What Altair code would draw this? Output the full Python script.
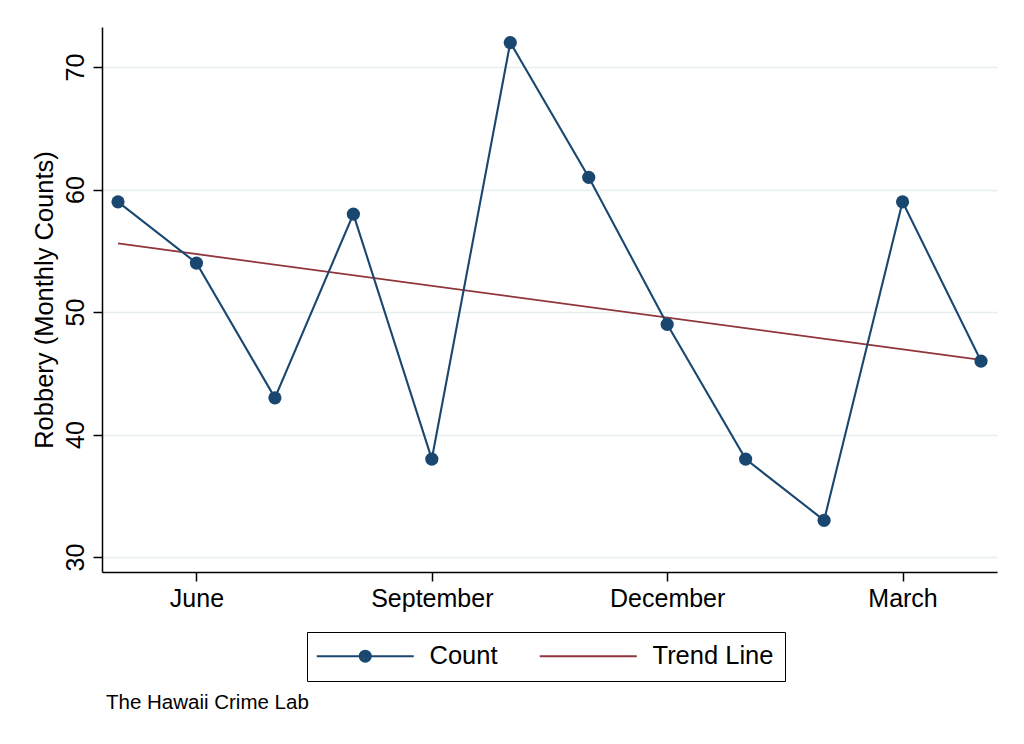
import altair as alt
import pandas as pd

# ---- data ----
months = ["May", "June", "July", "August", "September", "October",
          "November", "December", "January", "February", "March", "April"]
counts = [59, 54, 43, 58, 38, 72, 61, 49, 38, 33, 59, 46]
trend_months = ["May", "April"]
trend_values = [55.6, 46.1]
series_names = ["Count", "Trend Line"]
x_tick_labels = ["June", "September", "December", "March"]
y_ticks = [30, 40, 50, 60, 70]

NAVY = "#1a476f"
MAROON = "#90353b"
GRID = "#e6eef0"
FONT = "Liberation Sans"

# legend symbol paths (unit = sqrt(size)/2 px)
COUNT_PATH = ("M-1.4,0L8.3,0"
              "M2.9,0A0.55,0.55 0 1,0 4.0,0A0.55,0.55 0 1,0 2.9,0"
              "M3.1,0A0.35,0.35 0 1,0 3.8,0A0.35,0.35 0 1,0 3.1,0"
              "M3.3,0A0.15,0.15 0 1,0 3.6,0A0.15,0.15 0 1,0 3.3,0")
TREND_PATH = "M-1.4,0L8.3,0"

count_df = pd.DataFrame({"month": months, "value": counts})
trend_df = pd.DataFrame({"month": trend_months, "value": trend_values})
legend_df = pd.DataFrame({"series": series_names})

x_enc = alt.X(
    "month:O",
    sort=months,
    scale=alt.Scale(type="point", domain=months, padding=0.204),
    axis=alt.Axis(values=x_tick_labels, labelAngle=0, title=None, grid=False,
                  labelFontSize=25, labelPadding=5),
)
y_enc = alt.Y(
    "value:Q",
    scale=alt.Scale(domain=[28.78, 73.27], nice=False, zero=False),
    axis=alt.Axis(values=y_ticks, title="Robbery (Monthly Counts)",
                  labelAngle=270, labelAlign="center", labelBaseline="bottom",
                  labelFontSize=25, labelPadding=5, grid=True,
                  titleFontSize=25.5, titlePadding=6),
)

trend = alt.Chart(trend_df).mark_line(color=MAROON, strokeWidth=1.8).encode(x=x_enc, y=y_enc)
count_line = alt.Chart(count_df).mark_line(color=NAVY, strokeWidth=2.1).encode(x=x_enc, y=y_enc)
count_pts = alt.Chart(count_df).mark_circle(color=NAVY, size=175, opacity=1).encode(x=x_enc, y=y_enc)

legend_kw = dict(
    orient="none", legendX=205, legendY=605, direction="horizontal", title=None,
    strokeColor="black", padding=11, labelFont=FONT, labelFontSize=25.5,
    labelColor="black", symbolSize=400, symbolStrokeWidth=2,
    labelOffset=86, columnPadding=37, labelLimit=300,
)
legend_layer = (
    alt.Chart(legend_df)
    .mark_point(filled=False, size=400, strokeWidth=2, opacity=1)
    .encode(
        color=alt.Color("series:N",
                        scale=alt.Scale(domain=series_names, range=[NAVY, MAROON]),
                        legend=alt.Legend(**legend_kw)),
        shape=alt.Shape("series:N",
                        scale=alt.Scale(domain=series_names, range=[COUNT_PATH, TREND_PATH]),
                        legend=alt.Legend(**legend_kw)),
    )
    .transform_filter("false")
)

chart = (
    alt.layer(trend, count_line, count_pts, legend_layer)
    .properties(
        width=895, height=545,
        autosize=alt.AutoSizeParams(type="none"),
        padding={"left": 94, "top": 19, "right": 19, "bottom": 164},
        title=alt.Title("The Hawaii Crime Lab", orient="bottom", anchor="start",
                        frame="group", fontSize=20.5, font=FONT, fontWeight="normal",
                        color="black", offset=11, dx=4),
    )
    .configure_view(stroke=None)
    .configure_axis(
        labelFont=FONT, titleFont=FONT, labelColor="black", titleColor="black",
        titleFontWeight="normal", domainColor="black", domainWidth=1.5,
        tickColor="black", tickWidth=1.5, tickSize=9,
        gridColor=GRID, gridWidth=1.5,
    )
)

chart.save("out.html", embed_options={"renderer": "svg", "actions": False})
